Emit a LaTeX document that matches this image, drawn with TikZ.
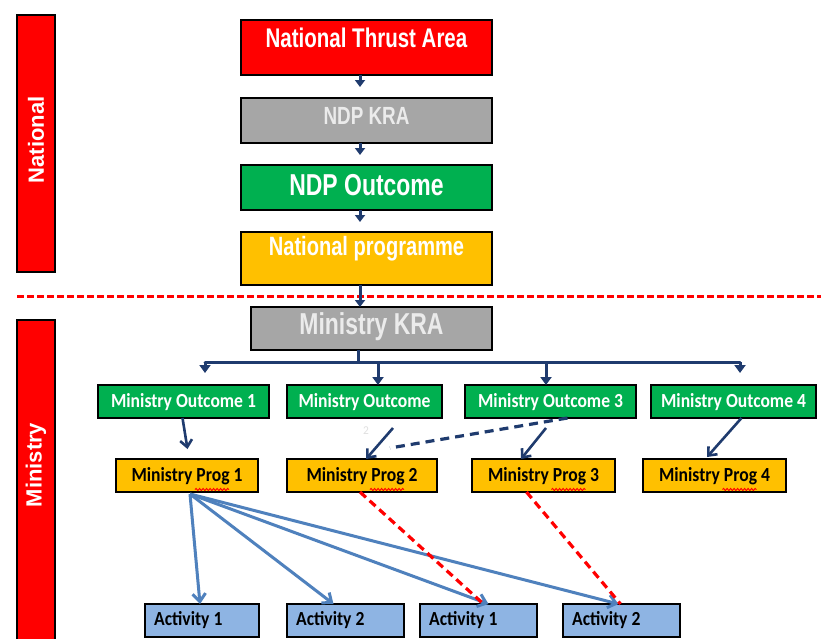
\documentclass[tikz,border=0pt]{standalone}
\usepackage{fontspec}
\setmainfont{Liberation Sans}
\newfontfamily\narrowfont{Liberation Sans}[FakeStretch=0.82]
\newfontfamily\calfont{Carlito}[FakeStretch=0.95]
\usetikzlibrary{arrows.meta,decorations.pathmorphing}
\newcommand\setfs[1]{\fontsize{#1}{#1}\selectfont}
\newcommand\tallbox[1]{\scalebox{1}[1.08]{#1}}
\definecolor{cred}{HTML}{FF0000}
\definecolor{cgray}{HTML}{A6A6A6}
\definecolor{cgreen}{HTML}{00B050}
\definecolor{cyel}{HTML}{FFC000}
\definecolor{cact}{HTML}{8EB4E3}
\definecolor{cnavy}{HTML}{1F3B6E}
\definecolor{cblue}{HTML}{4F81BD}
\begin{document}
\begin{tikzpicture}[x=1pt,y=-1pt,
  box/.style={draw=black, line width=1.7pt, inner sep=0pt, outer sep=0pt},
  toptext/.style={text=white, inner sep=0pt},
  sidetext/.style={text=white, inner sep=0pt, rotate=90, font=\bfseries\setfs{22}},
  mintext/.style={inner sep=0pt, font=\calfont\bfseries\setfs{18.5}},
  chain/.style={draw=cnavy, line width=3pt, -{Triangle[length=7pt,width=10pt]}},
  bus/.style={draw=cnavy, line width=3pt},
  busarrow/.style={draw=cnavy, line width=3pt, -{Triangle[length=8pt,width=11pt]}},
  linkarrow/.style={draw=cnavy, line width=2.6pt, -{Straight Barb[length=7pt,width=12pt]}},
  navydash/.style={draw=cnavy, line width=3.2pt, dash pattern=on 9pt off 6pt},
  actarrow/.style={draw=cblue, line width=3pt, -{Straight Barb[length=8pt,width=13pt]}},
  reddash/.style={draw=red, line width=3.2pt, dash pattern=on 8pt off 5pt},
  squig/.style={draw=red, line width=0.9pt, decorate, decoration={snake, amplitude=1.1pt, segment length=3.5pt}}]
\useasboundingbox (0,0) rectangle (821,638);
\fill[white] (0,0) rectangle (821,638);

% side bars
\node[box, fill=cred, minimum width=38pt, minimum height=257pt] (natbar) at (36,143.5) {};
\node[sidetext] (natbar-t) at (36,140) {National};
\node[box, fill=cred, minimum width=38pt, minimum height=330pt] (minbar) at (36,485) {};
\node[sidetext] (minbar-t) at (36,465) {Ministry};

% separator
\draw[red, line width=3pt, dash pattern=on 7pt off 3pt] (17,296) -- (821,296);

% national chain
\node[box, fill=cred, minimum width=251pt, minimum height=55pt] (nta) at (366.5,47.5) {};
\node[toptext, font=\narrowfont\bfseries\setfs{25}] (nta-t) at (366.5,38) {\tallbox{National Thrust Area}};
\node[box, fill=cgray, minimum width=251pt, minimum height=45pt] (kra) at (366.5,120.5) {};
\node[toptext, text=white!92!black, font=\narrowfont\bfseries\setfs{23}] (kra-t) at (366.5,116) {\tallbox{NDP KRA}};
\node[box, fill=cgreen, minimum width=251pt, minimum height=45pt] (ndpo) at (366.5,187.5) {};
\node[toptext, font=\narrowfont\bfseries\setfs{28}] (ndpo-t) at (366.5,185) {\tallbox{NDP Outcome}};
\node[box, fill=cyel, minimum width=251pt, minimum height=53pt] (natp) at (366.5,258.5) {};
\node[toptext, font=\narrowfont\bfseries\setfs{24.5}] (natp-t) at (366.5,249) {\tallbox{National programme}};
\node[box, fill=cgray, minimum width=241pt, minimum height=43pt] (mkra) at (371.5,328.5) {};
\node[toptext, text=white!92!black, font=\narrowfont\bfseries\setfs{28}] (mkra-t) at (371.5,327) {\tallbox{Ministry KRA}};

\draw[chain] ([xshift=-6.5pt]nta.south) -- ++(0,12);
\draw[chain] ([xshift=-6.5pt]kra.south) -- ++(0,12);
\draw[chain] ([xshift=-6.5pt]ndpo.south) -- ++(0,12);
\draw[chain] ([xshift=-6.5pt]natp.south) -- ([xshift=-6.5pt]natp.south |- mkra.north);

% ministry outcomes
\node[box, fill=cgreen, minimum width=171pt, minimum height=33pt] (mo1) at (183.5,401.5) {};
\node[mintext, text=white] (mo1-t) at (183.5,402) {\tallbox{Ministry Outcome 1}};
\node[box, fill=cgreen, minimum width=155pt, minimum height=33pt] (mo2) at (364.5,401.5) {};
\node[mintext, text=white] (mo2-t) at (364.5,402) {\tallbox{Ministry Outcome}};
\node[box, fill=cgreen, minimum width=171pt, minimum height=33pt] (mo3) at (550.5,401.5) {};
\node[mintext, text=white] (mo3-t) at (550.5,402) {\tallbox{Ministry Outcome 3}};
\node[box, fill=cgreen, minimum width=165pt, minimum height=33pt] (mo4) at (733.5,401.5) {};
\node[mintext, text=white] (mo4-t) at (733.5,402) {\tallbox{Ministry Outcome 4}};

% bus
\coordinate (busc) at (358,362);
\coordinate (busL) at (205,362);
\coordinate (busR) at (740,362);
\draw[bus] ([xshift=-13.5pt]mkra.south) -- (busc);
\draw[bus, line cap=round] (busL) -- (busR);
\draw[busarrow] (busL) -- ++(0,11);
\draw[busarrow] (busR) -- ++(0,11);
\draw[busarrow] (378,362) -- (mo2.north -| 378,0);
\draw[busarrow] (546,362) -- (mo3.north -| 546,0);

% ministry programmes
\node[box, fill=cyel, minimum width=142pt, minimum height=33pt] (mp1) at (187,475.5) {};
\node[mintext] (mp1-t) at (187,476) {\tallbox{Ministry Prog 1}};
\node[box, fill=cyel, minimum width=150pt, minimum height=33pt] (mp2) at (362,475.5) {};
\node[mintext] (mp2-t) at (362,476) {\tallbox{Ministry Prog 2}};
\node[box, fill=cyel, minimum width=143pt, minimum height=33pt] (mp3) at (543.5,475.5) {};
\node[mintext] (mp3-t) at (543.5,476) {\tallbox{Ministry Prog 3}};
\node[box, fill=cyel, minimum width=143pt, minimum height=33pt] (mp4) at (714.5,475.5) {};
\node[mintext] (mp4-t) at (714.5,476) {\tallbox{Ministry Prog 4}};
\foreach \m in {mp1,mp2,mp3,mp4}{
  \draw[squig] ([xshift=8pt,yshift=-14pt]\m.center) -- ([xshift=42pt,yshift=-14pt]\m.center);
}

% stray text
\node[inner sep=0pt, text=black!12, font=\calfont\setfs{12}] (stray) at (366,431) {2};

% outcome -> programme links
\draw[linkarrow] ([xshift=-1pt]mo1.south) -- (187.5,449);
\draw[linkarrow] (393,428) -- (366,459);
\draw[navydash] ([xshift=17pt]mo3.south) -- (390,448);
\draw[linkarrow] (546,428) -- (521,459);
\draw[linkarrow] ([xshift=8pt]mo4.south) -- (707,457);

% activities
\node[box, fill=cact, minimum width=114pt, minimum height=33pt] (a1) at (202,620.5) {};
\node[mintext, anchor=west] (a1-t) at ([xshift=9pt]a1.west) {\tallbox{Activity 1}};
\node[box, fill=cact, minimum width=117pt, minimum height=33pt] (a2) at (345.5,620.5) {};
\node[mintext, anchor=west] (a2-t) at ([xshift=9pt]a2.west) {\tallbox{Activity 2}};
\node[box, fill=cact, minimum width=117pt, minimum height=33pt] (a3) at (478.5,620.5) {};
\node[mintext, anchor=west] (a3-t) at ([xshift=9pt]a3.west) {\tallbox{Activity 1}};
\node[box, fill=cact, minimum width=117pt, minimum height=33pt] (a4) at (621.5,620.5) {};
\node[mintext, anchor=west] (a4-t) at ([xshift=9pt]a4.west) {\tallbox{Activity 2}};

% programme -> activity links
\coordinate (mp1o) at (190,494);
\draw[actarrow] (mp1o) -- ([xshift=-2pt]a1.north);
\draw[actarrow] (mp1o) -- ([xshift=-12pt]a2.north);
\draw[actarrow] (mp1o) -- ([xshift=10pt]a3.north);
\draw[actarrow] (mp1o) -- ([xshift=-3pt]a4.north);
\draw[reddash] ([xshift=-2pt]mp2.south) -- ([xshift=5pt]a3.north);
\draw[reddash] ([xshift=-17pt]mp3.south) -- ([xshift=-1pt]a4.north);
\end{tikzpicture}
\end{document}
